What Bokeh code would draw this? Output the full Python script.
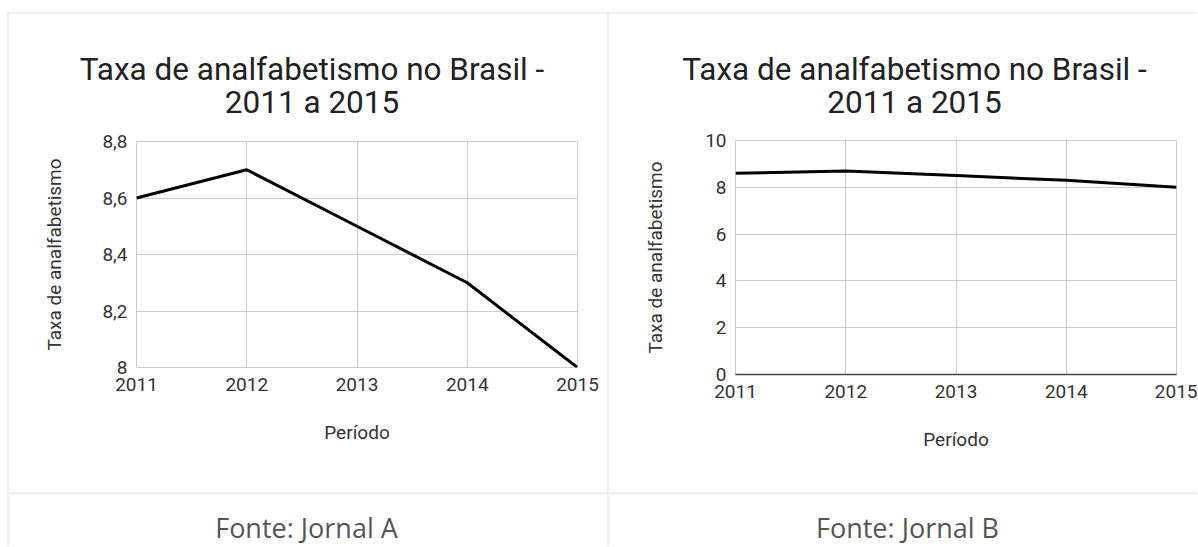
from bokeh.plotting import figure
from bokeh.layouts import row, column
from bokeh.models import FixedTicker, Range1d, CustomJSTickFormatter
from bokeh.core.properties import value
from bokeh.embed import file_html
from bokeh.resources import INLINE

# ---- data ----
years = [2011, 2012, 2013, 2014, 2015]
taxa = [8.6, 8.7, 8.5, 8.3, 8.0]
ticks_a = [8.0, 8.2, 8.4, 8.6, 8.8]
ticks_b = [0, 2, 4, 6, 8, 10]
title_line1 = "Taxa de analfabetismo no Brasil -"
title_line2 = "2011 a 2015"
x_label = "Período"
y_label = "Taxa de analfabetismo"
fontes = ["Fonte: Jornal A", "Fonte: Jornal B"]

GRID = "#cccccc"
TXT = "#333333"
TITLE_H = 110
CHART_H = 368


def pixel_fig(width, height):
    f = figure(width=width, height=height, output_backend="svg", toolbar_location=None,
               x_range=Range1d(0, width), y_range=Range1d(height, 0),
               min_border=0, frame_align=False,
               x_axis_type=None, y_axis_type=None, outline_line_color=None,
               background_fill_color="white", border_fill_color="white")
    f.grid.visible = False
    return f


def title_fig(width, cx):
    f = pixel_fig(width, TITLE_H)
    f.text(x=[cx, cx], y=[55, 87.5], text=[title_line1, title_line2],
           text_align="center", text_baseline="alphabetic",
           text_font=value("Roboto"), text_font_size="31.5px", text_color="#222222")
    return f


def chart(width, bl, br, bt, bb, y0, y1, yticks, ylab_standoff, dark_base, comma):
    p = figure(width=width, height=CHART_H, output_backend="svg", toolbar_location=None,
               x_range=Range1d(years[0], years[-1]), y_range=Range1d(y0, y1),
               min_border_left=bl, min_border_right=br, min_border_top=bt,
               min_border_bottom=bb, background_fill_color="white",
               border_fill_color="white", outline_line_color=GRID)
    p.line(years, taxa, line_color="black", line_width=3)

    p.xaxis.ticker = FixedTicker(ticks=years)
    p.yaxis.ticker = FixedTicker(ticks=yticks)
    if comma:
        p.yaxis.formatter = CustomJSTickFormatter(
            code="return (Math.round(tick*10)/10).toString().replace('.', ',');")
    p.xgrid.ticker = FixedTicker(ticks=years)
    p.ygrid.ticker = FixedTicker(ticks=yticks)
    p.grid.grid_line_color = GRID
    p.grid.grid_line_width = 1

    for ax in (p.xaxis[0], p.yaxis[0]):
        ax.axis_line_color = None
        ax.major_tick_line_color = None
        ax.minor_tick_line_color = None
        ax.major_tick_out = 0
        ax.major_tick_in = 0
        ax.major_label_text_font = "Roboto"
        ax.major_label_text_font_size = "19px"
        ax.major_label_text_color = TXT
        ax.axis_label_text_font = "Roboto"
        ax.axis_label_text_font_size = "19px"
        ax.axis_label_text_font_style = "normal"
        ax.axis_label_text_color = TXT
    if dark_base:
        p.xaxis.axis_line_color = "#444444"
        p.xaxis.axis_line_width = 1.5
    p.xaxis.axis_label = x_label
    p.yaxis.axis_label = y_label
    p.xaxis.major_label_standoff = 10
    p.yaxis.major_label_standoff = 9
    p.xaxis.axis_label_standoff = 27
    p.yaxis.axis_label_standoff = ylab_standoff
    return p


def footer(width, cx, text):
    f = pixel_fig(width, 52)
    f.text(x=[cx], y=[32.7], text=[text], text_align="center", text_baseline="alphabetic",
           text_font=value("Open Sans"), text_font_size="27px", text_color="#555555")
    return f


WA, WB = 598, 588
tA = title_fig(WA, 302.5)
tB = title_fig(WB, 305)
pA = chart(WA, 127, 30, 17, 125, ticks_a[0], ticks_a[-1], ticks_a, 33, False, True)
pB = chart(WB, 126, 21, 16, 118, ticks_b[0], ticks_b[-1], ticks_b, 35, True, False)
fA = footer(WA, 297, fontes[0])
fB = footer(WB, 298, fontes[1])

white = {"background-color": "white"}
layout = column(row(column(tA, pA, styles=white), column(tB, pB, styles=white), spacing=2),
                row(fA, fB, spacing=2), spacing=2,
                styles={"background-color": "#eeeeee", "padding": "2px 0 0 2px",
                        "margin": "12px 0 0 7px"})

open("out.html", "w").write(file_html(layout, INLINE))
